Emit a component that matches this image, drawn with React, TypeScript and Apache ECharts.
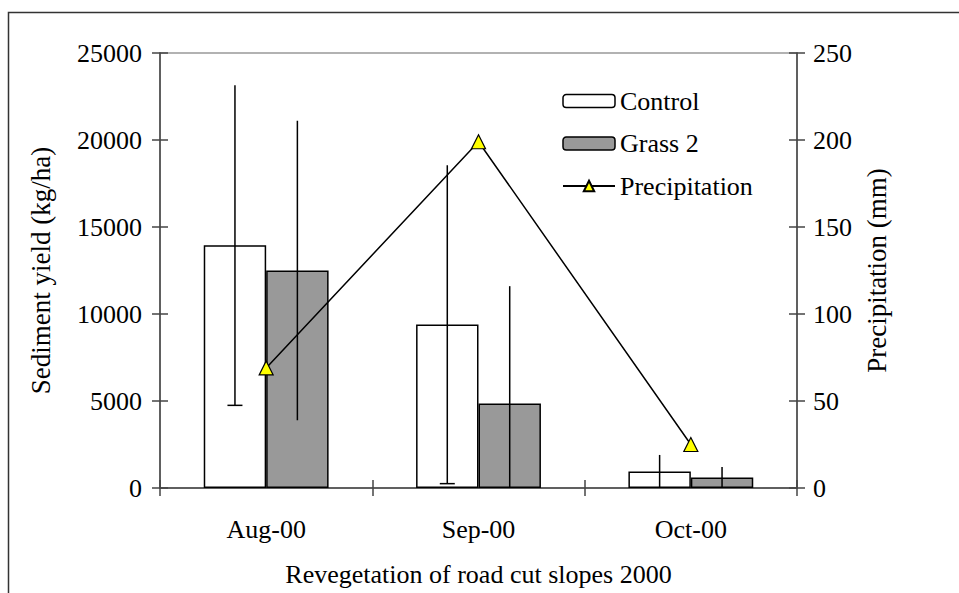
import React, { useEffect, useRef } from "react";
import * as echarts from "echarts";

const categories = ["Aug-00", "Sep-00", "Oct-00"];
const controlValues = [13950, 9400, 950];
const grassValues = [12500, 4850, 600];
const controlErr = [9200, 9150, 950];
const grassErr = [8600, 6750, 600];
const precipValues = [69, 199, 25];
const leftTicks = [0, 5000, 10000, 15000, 20000, 25000];
const rightTicks = [0, 50, 100, 150, 200, 250];

const FONT = "'Liberation Serif', 'Times New Roman', serif";
const FS = 26;
const FS_V = 27;

function errSeries(name: string, means: number[], errs: number[], offset: number, lowerCap: boolean) {
  return {
    type: "custom",
    name,
    xAxisIndex: 0,
    yAxisIndex: 0,
    z: 5,
    silent: true,
    data: means.map((m, i) => [i, m, errs[i]]),
    renderItem: (params: any, api: any) => {
      const idx = api.value(0);
      const mean = api.value(1);
      const err = api.value(2);
      const band = api.size([1, 0])[0];
      const c = api.coord([idx, mean]);
      const x = c[0] + offset * band;
      const top = api.coord([idx, mean + err])[1];
      const lowVal = Math.max(0, mean - err);
      const bot = api.coord([idx, lowVal])[1];
      const children: any[] = [
        { type: "line", shape: { x1: x, y1: top, x2: x, y2: bot }, style: { stroke: "#000", lineWidth: 1.5 } },
      ];
      if (lowerCap && lowVal > 0) {
        children.push({ type: "line", shape: { x1: x - 7.5, y1: bot, x2: x + 7.5, y2: bot }, style: { stroke: "#000", lineWidth: 1.5 } });
      }
      return { type: "group", children };
    },
  };
}

export default function App() {
  const ref = useRef<HTMLDivElement>(null);
  useEffect(() => {
    document.body.style.margin = "0";
    const chart = echarts.init(ref.current!, null, { renderer: "svg" });
    const barW = 0.294;
    const axisLabel = { color: "#000", fontFamily: FONT, fontSize: FS };
    chart.setOption({
      animation: false,
      backgroundColor: "#fff",
      textStyle: { fontFamily: FONT, color: "#000" },
      grid: {
        left: 160,
        right: 162,
        top: 53,
        bottom: 105,
        show: true,
        borderColor: "#999",
        borderWidth: 1.5,
        containLabel: false,
        outerBoundsMode: "none",
      },
      legend: {
        left: 562,
        top: 88,
        padding: 0,
        orient: "vertical",
        itemWidth: 52,
        itemHeight: 13,
        itemGap: 16.5,
        textStyle: { fontFamily: FONT, fontSize: FS, lineHeight: 26, color: "#000", padding: [0, 0, 0, 0] },
        data: [
          { name: "Control", itemStyle: { color: "#fff", borderColor: "#000", borderWidth: 1.5 } },
          { name: "Grass 2", itemStyle: { color: "#999999", borderColor: "#000", borderWidth: 1.5 } },
          { name: "Precipitation" },
        ],
      },
      xAxis: [
        {
          type: "category",
          data: categories,
          axisLine: { lineStyle: { color: "#444", width: 1.5 } },
          axisTick: { show: true, alignWithLabel: false, length: 8, lineStyle: { color: "#444", width: 1.5 } },
          axisLabel: { ...axisLabel, margin: 28 },
          name: "Revegetation of road cut slopes 2000",
          nameLocation: "middle",
          nameGap: 73,
          nameTextStyle: { fontFamily: FONT, fontSize: FS, color: "#000" },
        },
        {
          type: "category",
          data: categories,
          position: "bottom",
          axisLine: { show: false },
          axisTick: { show: true, inside: true, alignWithLabel: false, length: 8, lineStyle: { color: "#444", width: 1.5 } },
          axisLabel: { show: false },
        },
      ],
      yAxis: [
        {
          type: "value",
          min: 0,
          max: 25000,
          interval: 5000,
          position: "left",
          axisLine: { show: true, lineStyle: { color: "#444", width: 1.5 } },
          axisTick: { show: true, length: 8, lineStyle: { color: "#444", width: 1.5 } },
          splitLine: { show: false },
          axisLabel: { ...axisLabel, margin: 18, formatter: (v: number) => (leftTicks.includes(v) ? String(v) : "") },
          name: "Sediment yield (kg/ha)",
          nameLocation: "middle",
          nameGap: 106,
          nameTextStyle: { fontFamily: FONT, fontSize: FS_V, color: "#000" },
        },
        {
          type: "value",
          min: 0,
          max: 250,
          interval: 50,
          position: "right",
          axisLine: { show: true, lineStyle: { color: "#444", width: 1.5 } },
          axisTick: { show: true, length: 8, lineStyle: { color: "#444", width: 1.5 } },
          splitLine: { show: false },
          axisLabel: { ...axisLabel, margin: 16, formatter: (v: number) => (rightTicks.includes(v) ? String(v) : "") },
          name: "Precipitation (mm)",
          nameLocation: "middle",
          nameGap: 66,
          nameRotate: 90,
          nameTextStyle: { fontFamily: FONT, fontSize: FS_V, color: "#000" },
        },
        {
          type: "value",
          min: 0,
          max: 25000,
          interval: 5000,
          position: "left",
          axisLine: { show: false },
          axisTick: { show: true, inside: true, length: 8, lineStyle: { color: "#444", width: 1.5 } },
          splitLine: { show: false },
          axisLabel: { show: false },
        },
        {
          type: "value",
          min: 0,
          max: 250,
          interval: 50,
          position: "right",
          axisLine: { show: false },
          axisTick: { show: true, inside: true, length: 8, lineStyle: { color: "#444", width: 1.5 } },
          splitLine: { show: false },
          axisLabel: { show: false },
        },
      ],
      series: [
        {
          type: "bar",
          name: "Control",
          data: controlValues,
          barWidth: "29.4%",
          barGap: "0%",
          itemStyle: { color: "#fff", borderColor: "#000", borderWidth: 1.5 },
          z: 2,
        },
        {
          type: "bar",
          name: "Grass 2",
          data: grassValues,
          barWidth: "29.4%",
          barGap: "0%",
          itemStyle: { color: "#999999", borderColor: "#000", borderWidth: 1.5 },
          z: 2,
        },
        errSeries("Control err", controlValues, controlErr, -barW / 2, true),
        errSeries("Grass err", grassValues, grassErr, barW / 2, false),
        {
          type: "line",
          name: "Precipitation",
          yAxisIndex: 1,
          data: precipValues,
          symbol: "triangle",
          symbolSize: 14,
          lineStyle: { color: "#000", width: 1.5 },
          itemStyle: { color: "#ffff00", borderColor: "#000", borderWidth: 1.2 },
          z: 10,
        },
      ],
      graphic: [
        {
          type: "rect",
          shape: { x: 8.5, y: 12.5, width: 1200, height: 1200 },
          style: { fill: "none", stroke: "#333", lineWidth: 1.5 },
          silent: true,
        },
      ],
    });
    return () => chart.dispose();
  }, []);
  return <div ref={ref} style={{ width: 959, height: 593 }} />;
}
